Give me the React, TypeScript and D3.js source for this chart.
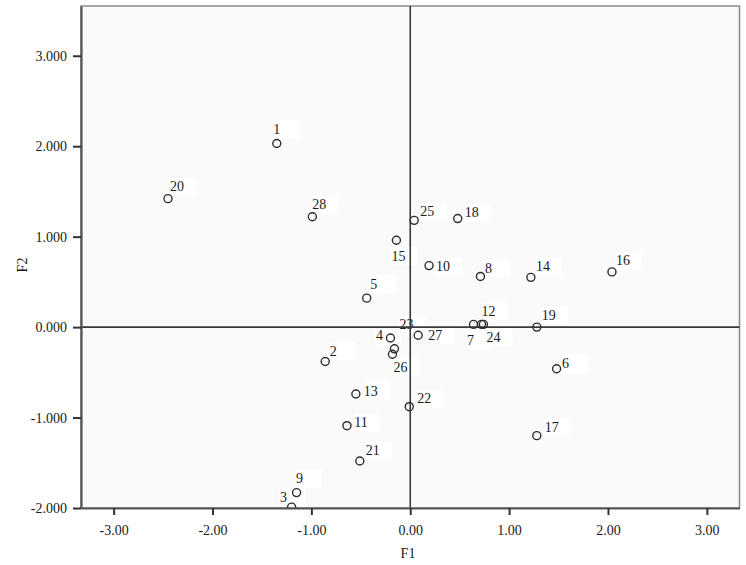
import React, { useEffect, useRef } from 'react';
import * as d3 from 'd3';

// case numbers and factor scores
const caseIds = [1, 2, 3, 4, 5, 6, 7, 8, 9, 10, 11, 12, 13, 14, 15, 16, 17, 18, 19, 20, 21, 22, 23, 24, 25, 26, 27, 28];
const f1Scores = [-1.35, -0.86, -1.2, -0.2, -0.44, 1.48, 0.64, 0.71, -1.15, 0.19, -0.64, 0.72, -0.55, 1.22, -0.14, 2.04, 1.28, 0.48, 1.28, -2.45, -0.51, -0.01, -0.16, 0.74, 0.04, -0.18, 0.08, -0.99];
const f2Scores = [2.03, -0.38, -1.99, -0.12, 0.32, -0.46, 0.03, 0.56, -1.83, 0.68, -1.09, 0.03, -0.74, 0.55, 0.96, 0.61, -1.2, 1.2, 0.0, 1.42, -1.48, -0.88, -0.24, 0.03, 1.18, -0.3, -0.09, 1.22];
const xTickValues = [-3, -2, -1, 0, 1, 2, 3];
const yTickValues = [-2, -1, 0, 1, 2, 3];

// where each case label sits relative to its marker (px)
const labelShift: [number, number][] = [
    [0, -14], [8, -10], [-8, -10], [-11, -2], [7, -14], [9, -5], [-3, 16], [8, -8], [3, -14], [14, 1],
    [14, -3], [7, -13], [15, -3], [12, -11], [2, 16], [11, -11], [15, -8], [14, -6], [12, -12], [9, -12],
    [13, -10], [15, -8], [12, -24], [10, 13], [13, -9], [8, 13], [17, 0], [7, -12],
];

const font = '"Liberation Serif", "Times New Roman", serif';

// SPSS prints a plain hyphen, not the unicode minus
const fmt = (spec: string) => {
    const f = d3.format(spec);
    return (v: d3.NumberValue) => f(v).replace('\u2212', '-');
};

export default function App() {
    const node = useRef<SVGSVGElement | null>(null);

    useEffect(() => {
        const width = 746;
        const height = 565;
        const left = 81;
        const right = 739.5;
        const top = 6;
        const bottom = 508;

        const svg = d3.select(node.current);
        svg.selectAll('*').remove();
        svg.attr('width', width).attr('height', height);

        const xScale = d3.scaleLinear().domain([-3.33, 3.33]).range([left, right]);
        const yScale = d3.scaleLinear().domain([-2, 3.55]).range([bottom, top]);

        svg.append('rect')
            .attr('width', width)
            .attr('height', height)
            .attr('fill', '#ffffff');

        // plot area
        svg.append('rect')
            .attr('x', left)
            .attr('y', top)
            .attr('width', right - left)
            .attr('height', bottom - top)
            .attr('fill', '#fafafa')
            .attr('stroke', '#8a8a8a')
            .attr('stroke-width', 1.5);

        svg.append('defs').append('clipPath')
            .attr('id', 'plotclip')
            .append('rect')
            .attr('x', left)
            .attr('y', top)
            .attr('width', right - left)
            .attr('height', bottom - top);

        const data = caseIds.map((id, i) => ({ id, f1: f1Scores[i], f2: f2Scores[i], shift: labelShift[i] }));

        const labels = svg.append('g').attr('clip-path', 'url(#plotclip)');

        // white label boxes
        labels.selectAll('rect')
            .data(data)
            .enter()
            .append('rect')
            .attr('x', (d) => xScale(d.f1) + d.shift[0] - (d.id > 9 ? 7 : 4))
            .attr('y', (d) => yScale(d.f2) + d.shift[1] - 9)
            .attr('width', 26)
            .attr('height', 18)
            .attr('fill', '#ffffff');

        // reference lines through the origin
        svg.append('line')
            .attr('x1', left)
            .attr('x2', right)
            .attr('y1', yScale(0))
            .attr('y2', yScale(0))
            .attr('stroke', '#3a3a3a')
            .attr('stroke-width', 1.6);

        svg.append('line')
            .attr('x1', xScale(0))
            .attr('x2', xScale(0))
            .attr('y1', top)
            .attr('y2', bottom)
            .attr('stroke', '#3a3a3a')
            .attr('stroke-width', 1.6);

        labels.selectAll('text')
            .data(data)
            .enter()
            .append('text')
            .attr('x', (d) => xScale(d.f1) + d.shift[0])
            .attr('y', (d) => yScale(d.f2) + d.shift[1])
            .attr('text-anchor', 'middle')
            .attr('dominant-baseline', 'central')
            .style('font-family', font)
            .style('font-size', '14px')
            .attr('fill', '#1a1a1a')
            .text((d) => d.id);

        // markers
        svg.append('g')
            .attr('clip-path', 'url(#plotclip)')
            .selectAll('circle')
            .data(data)
            .enter()
            .append('circle')
            .attr('cx', (d) => xScale(d.f1))
            .attr('cy', (d) => yScale(d.f2))
            .attr('r', 4)
            .attr('fill', 'none')
            .attr('stroke', '#2e2e2e')
            .attr('stroke-width', 1.4);

        // axes
        const xAxis = d3.axisBottom(xScale)
            .tickValues(xTickValues)
            .tickFormat(fmt('.2f'))
            .tickSizeInner(7)
            .tickSizeOuter(0)
            .tickPadding(10);

        const yAxis = d3.axisLeft(yScale)
            .tickValues(yTickValues)
            .tickFormat(fmt('.3f'))
            .tickSizeInner(8)
            .tickSizeOuter(0)
            .tickPadding(6);

        const xg = svg.append('g')
            .attr('transform', `translate(0, ${bottom})`)
            .call(xAxis);

        const yg = svg.append('g')
            .attr('transform', `translate(${left}, 0)`)
            .call(yAxis);

        [xg, yg].forEach((g) => {
            g.select('.domain').attr('stroke', '#555555').attr('stroke-width', 2.2);
            g.selectAll('.tick line').attr('stroke', '#333333').attr('stroke-width', 2);
            g.selectAll('.tick text')
                .attr('fill', '#1a1a1a')
                .style('font-family', font)
                .style('font-size', '14px');
        });

        svg.append('text')
            .attr('x', 408)
            .attr('y', 553)
            .attr('text-anchor', 'middle')
            .attr('dominant-baseline', 'central')
            .style('font-family', font)
            .style('font-size', '14px')
            .attr('fill', '#1a1a1a')
            .text('F1');

        svg.append('text')
            .attr('transform', 'translate(22, 265) rotate(-90)')
            .attr('text-anchor', 'middle')
            .attr('dominant-baseline', 'central')
            .style('font-family', font)
            .style('font-size', '14px')
            .attr('fill', '#1a1a1a')
            .text('F2');
    }, []);

    return (
        <svg ref={node} style={{ position: 'absolute', left: 0, top: 0, display: 'block' }} />
    );
}
